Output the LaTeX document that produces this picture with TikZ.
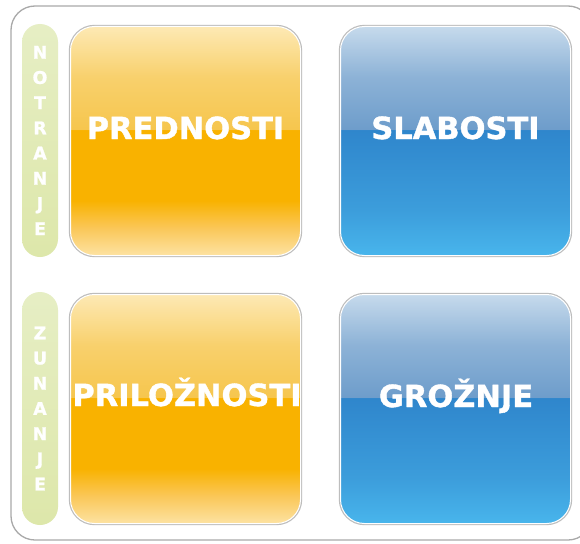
\documentclass[tikz,border=0pt]{standalone}
\usepackage{fontspec}
\usepackage{tikz}
\usetikzlibrary{positioning,shapes}
\newfontfamily\swotfont{DejaVu Sans}[FakeBold=1.2]
\definecolor{framegray}{HTML}{A9A9A9}
\definecolor{boxgray}{HTML}{BDBDBD}
\definecolor{ybottom}{HTML}{FDE3A2}
\definecolor{ylower}{HTML}{FAC758}
\definecolor{ydeep}{HTML}{F9B200}
\definecolor{yupper}{HTML}{F6C64E}
\definecolor{ytop}{HTML}{FDE9B4}
\definecolor{bbottom}{HTML}{48B5EC}
\definecolor{blower}{HTML}{3C9DDB}
\definecolor{bdeep}{HTML}{2F86CC}
\definecolor{bupper}{HTML}{6E9DCB}
\definecolor{btop}{HTML}{C6DAEC}
\definecolor{pilltop}{HTML}{E6EEC4}
\definecolor{pillbottom}{HTML}{DDE7AA}
\pgfdeclareverticalshading{yellowglass}{100bp}{color(0bp)=(ybottom); color(25bp)=(ybottom); color(31bp)=(ylower); color(37bp)=(ydeep); color(52.4bp)=(ydeep); color(52.6bp)=(yupper); color(64bp)=(yupper!70!ytop); color(75bp)=(ytop); color(100bp)=(ytop)}
\pgfdeclareverticalshading{blueglass}{100bp}{color(0bp)=(bbottom); color(25bp)=(bbottom); color(35bp)=(blower); color(52.4bp)=(bdeep); color(52.6bp)=(bupper); color(64bp)=(bupper!65!btop); color(75bp)=(btop); color(100bp)=(btop)}
\tikzstyle{frame}=[draw=framegray,line width=1.3pt,rounded corners=24pt]
\tikzstyle{glassbox}=[rectangle,rounded corners=24pt,minimum width=230pt,minimum height=229pt,inner sep=0pt,draw=white,line width=1pt,preaction={draw=boxgray,line width=3.4pt}]
\tikzstyle{strength}=[glassbox,shading=yellowglass]
\tikzstyle{weakness}=[glassbox,shading=blueglass]
\tikzstyle{boxtext}=[text=white,font={\swotfont\bfseries\fontsize{30.5}{36}\selectfont},text height=22pt,text depth=0pt,inner sep=0pt]
\tikzstyle{pill}=[rectangle,rounded corners=18pt,minimum width=36pt,minimum height=233pt,inner sep=0pt,top color=pilltop,bottom color=pillbottom,text=white,align=center,font={\swotfont\bfseries\fontsize{17.5}{25.2}\selectfont}]

\begin{document}
\begin{tikzpicture}[x=1pt,y=-1pt]
      \useasboundingbox[fill=white] (0, 0) rectangle (580, 543);
      \draw[frame] (11, 6) rectangle (592, 540);

      \node[pill] at (40, 140.5) (notranje) {N\\O\\T\\R\\A\\N\\J\\E};
			\node[pill] at (40, 408.5) (zunanje) {Z\\U\\N\\A\\N\\J\\E};

      \node[strength] at (185.5, 141) (prednosti) {};
			\node[weakness] at (455.5, 141) (slabosti) {};
			\node[strength] at (185.5, 409) (priloznosti) {};
			\node[weakness] at (455.5, 409) (groznje) {};

      \node[boxtext] at (185.5, 128) (prednostitext) {PREDNOSTI};
			\node[boxtext] at (455.5, 128) (slabostitext) {SLABOSTI};
			\node[boxtext] at (187, 395) (priloznostitext) {PRILOŽNOSTI};
			\node[boxtext] at (456, 396) (groznjetext) {GROŽNJE};
  	\end{tikzpicture}
\end{document}
